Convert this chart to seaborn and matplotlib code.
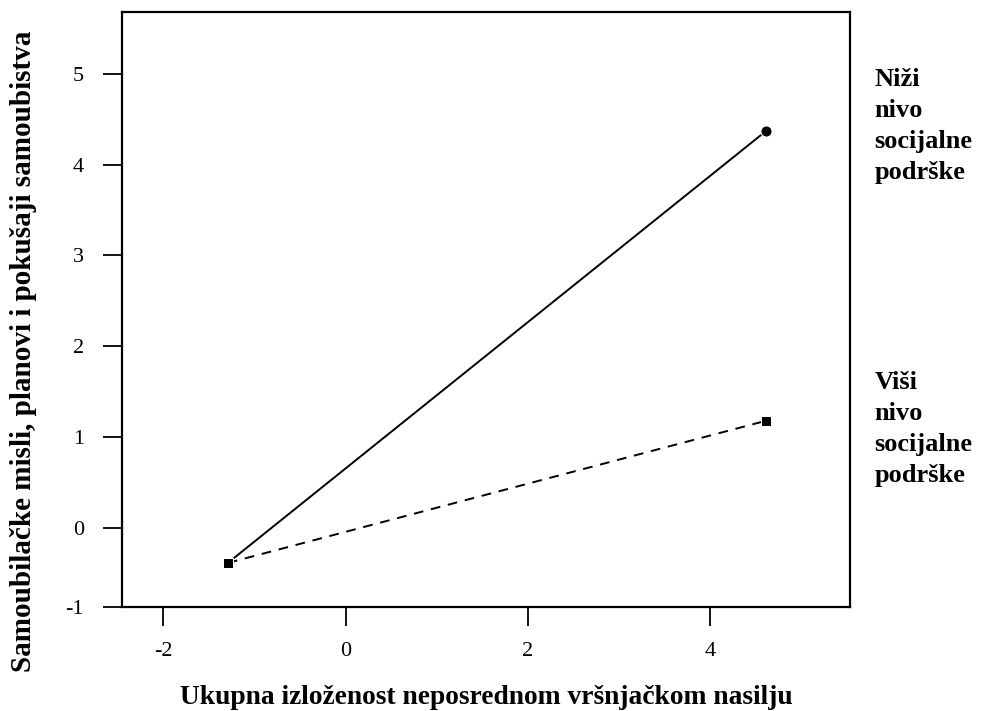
import pandas as pd
import seaborn as sns
import matplotlib.pyplot as plt

# podaci ocitani sa slike
x_vals = [-1.29, 4.61]
niza_podrska = [-0.385, 4.37]
visa_podrska = [-0.385, 1.18]
grupe = ["Niži\nnivo\nsocijalne\npodrške", "Viši\nnivo\nsocijalne\npodrške"]

x_ticks = [-2, 0, 2, 4]
y_tick_pos = [-0.87, 0, 1, 2, 3, 4, 5]
y_tick_labels = ["-1", "0", "1", "2", "3", "4", "5"]

df = pd.DataFrame({
    "x": x_vals * 2,
    "y": niza_podrska + visa_podrska,
    "grupa": [grupe[0]] * 2 + [grupe[1]] * 2,
})

sns.set_style("ticks")
plt.rcParams["font.family"] = ["Liberation Serif", "DejaVu Serif"]
plt.rcParams["text.color"] = "black"
plt.rcParams["axes.labelcolor"] = "black"

fig = plt.figure(figsize=(9.81, 7.11), dpi=100)
ax = fig.add_axes([0.1244, 0.1463, 0.742, 0.8368])

sns.lineplot(data=df[df.grupa == grupe[0]], x="x", y="y", color="black",
             linewidth=1.4, marker="o", markersize=8, ax=ax, legend=False)
sns.lineplot(data=df[df.grupa == grupe[1]], x="x", y="y", color="black",
             linewidth=1.4, linestyle=(0, (5, 4)), marker="s", markersize=7.5,
             ax=ax, legend=False)

ax.set_xlim(-2.45, 5.53)
ax.set_ylim(-0.87, 5.68)
ax.set_xticks(x_ticks)
ax.set_xticklabels([str(v) for v in x_ticks])
ax.set_yticks(y_tick_pos)
ax.set_yticklabels(y_tick_labels)
ax.tick_params(axis="both", length=13.5, width=1.3, labelsize=16, colors="black")
ax.tick_params(axis="y", pad=14)
ax.tick_params(axis="x", pad=12)
for s in ax.spines.values():
    s.set_linewidth(1.6)
    s.set_color("black")

ax.set_xlabel("Ukupna izloženost neposrednom vršnjačkom nasilju",
              fontsize=19.8, fontweight="bold", labelpad=17)
ax.set_ylabel("Samoubilačke misli, planovi i pokušaji samoubistva",
              fontsize=21, fontweight="bold")
ax.yaxis.set_label_coords(-0.117, 0.43)

# oznake grupa desno od grafika
ax.text(1.034, 0.906, grupe[0], transform=ax.transAxes,
        ha="left", va="top", fontsize=19, fontweight="bold", linespacing=1.44)
ax.text(1.034, 0.397, grupe[1], transform=ax.transAxes,
        ha="left", va="top", fontsize=19, fontweight="bold", linespacing=1.44)

fig.savefig("out.png", dpi=100)
